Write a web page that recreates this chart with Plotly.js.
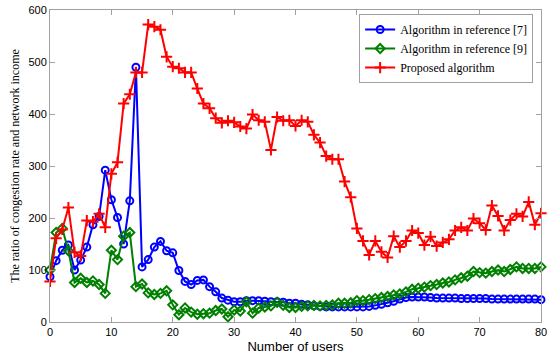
<!DOCTYPE html>
<html>
<head>
<meta charset="utf-8">
<script src="https://cdn.plot.ly/plotly-3.0.1.min.js"></script>
<style>html,body{margin:0;padding:0;background:#fff;}#chart{width:550px;height:356px;}</style>
</head>
<body>
<div id="chart"></div>
<script>
const users = [];
for (let i = 0; i <= 80; i++) users.push(i);

const ref7 = [87,118,138,148,100,119,144,187,203,292,235,201,150,233,490,106,120,144,155,137,133,99,78,72,80,81,68,58,46,42,39,39,41,41,41,40,39,39,38,36,36,34,33,31,30,29,29,29,29,29,29,29,30,32,34,37,40,44,47,48,48,48,47,46,46,46,46,45,45,45,45,45,44,44,44,44,44,44,44,44,43];
const ref9 = [100,172,180,137,76,84,76,79,72,55,138,120,165,172,68,73,56,53,55,60,33,14,27,19,15,16,17,22,25,10,23,21,39,17,27,29,31,38,32,28,28,30,31,32,31,32,33,36,36,37,41,41,43,45,47,49,52,54,58,63,65,67,70,72,75,77,81,85,88,97,95,94,97,100,97,101,106,103,103,103,106];
const proposed = [78,161,178,220,134,127,195,193,208,182,285,307,420,438,480,480,572,568,562,510,491,488,480,480,449,420,411,392,383,387,384,376,372,399,388,385,331,394,387,388,377,388,385,360,345,319,313,313,270,240,180,156,129,156,135,124,165,144,156,176,171,148,164,146,153,159,176,182,176,199,190,177,224,204,176,196,208,203,231,187,209];

const traces = [
  {x: users, y: ref7, name: 'Algorithm in reference [7]', type: 'scatter', mode: 'lines+markers',
   line: {color: '#0000FF', width: 2}, cliponaxis: false,
   marker: {symbol: 'circle-open', size: 7, color: '#0000FF', line: {width: 2, color: '#0000FF'}}},
  {x: users, y: ref9, name: 'Algorithm in reference [9]', type: 'scatter', mode: 'lines+markers',
   line: {color: '#008000', width: 2}, cliponaxis: false,
   marker: {symbol: 'diamond-open', size: 7, color: '#008000', line: {width: 2, color: '#008000'}}},
  {x: users, y: proposed, name: 'Proposed algorithm', type: 'scatter', mode: 'lines+markers',
   line: {color: '#FF0000', width: 2}, cliponaxis: false,
   marker: {symbol: 'cross-thin-open', size: 8, color: '#FF0000', line: {width: 2, color: '#FF0000'}}}
];

const axisCommon = {
  showline: true, linecolor: '#a0a0a0', linewidth: 1, mirror: 'ticks',
  ticks: 'inside', ticklen: 5, tickcolor: '#a0a0a0',
  showgrid: false, zeroline: false,
  tickfont: {family: 'Liberation Sans, Arial, sans-serif', size: 11, color: '#000'}
};

const layout = {
  width: 550, height: 356,
  margin: {l: 50, r: 9, t: 10, b: 34},
  paper_bgcolor: '#fff', plot_bgcolor: '#fff',
  showlegend: true,
  xaxis: Object.assign({}, axisCommon, {
    range: [0, 80], tickvals: [0,10,20,30,40,50,60,70,80],
    title: {text: 'Number of users', standoff: 4,
      font: {family: 'Liberation Sans, Arial, sans-serif', size: 13, color: '#000'}}
  }),
  yaxis: Object.assign({}, axisCommon, {
    range: [0, 600], tickvals: [0,100,200,300,400,500,600],
    title: {text: 'The ratio of congestion rate and network income', standoff: 6,
      font: {family: 'Liberation Serif, Times New Roman, serif', size: 12, color: '#000'}}
  }),
  legend: {
    x: 0.984, y: 0.987, xanchor: 'right', yanchor: 'top',
    bgcolor: '#fff', bordercolor: '#a0a0a0', borderwidth: 1,
    font: {family: 'Liberation Serif, Times New Roman, serif', size: 12, color: '#000'},
    tracegroupgap: 0, itemwidth: 30
  }
};

Plotly.newPlot('chart', traces, layout, {displayModeBar: false, staticPlot: true});
</script>
</body>
</html>
